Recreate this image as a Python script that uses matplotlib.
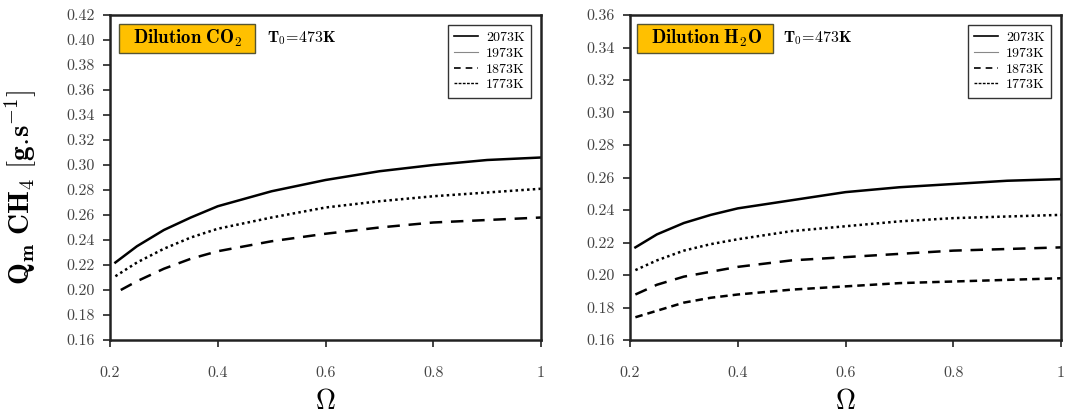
import matplotlib
matplotlib.use("Agg")
import matplotlib.pyplot as plt
from matplotlib.lines import Line2D
from matplotlib.patches import Rectangle

plt.rcParams['font.family'] = 'serif'
plt.rcParams['font.serif'] = ['cmr10', 'DejaVu Serif']
plt.rcParams['mathtext.fontset'] = 'cm'
plt.rcParams['axes.formatter.use_mathtext'] = True

# ---- data ----
omega = [0.21, 0.25, 0.30, 0.35, 0.40, 0.50, 0.60, 0.70, 0.80, 0.90, 1.00]
omega_b = [0.22, 0.25, 0.30, 0.35, 0.40, 0.50, 0.60, 0.70, 0.80, 0.90, 1.00]

co2_2073 = [0.222, 0.235, 0.248, 0.258, 0.267, 0.279, 0.288, 0.295, 0.300, 0.304, 0.306]
co2_1973 = [0.211, 0.222, 0.233, 0.242, 0.249, 0.258, 0.266, 0.271, 0.275, 0.278, 0.281]
co2_1873 = [0.200, 0.207, 0.217, 0.225, 0.231, 0.239, 0.245, 0.250, 0.254, 0.256, 0.258]

h2o_2073 = [0.217, 0.225, 0.232, 0.237, 0.241, 0.246, 0.251, 0.254, 0.256, 0.258, 0.259]
h2o_1973 = [0.203, 0.209, 0.215, 0.219, 0.222, 0.227, 0.230, 0.233, 0.235, 0.236, 0.237]
h2o_1873 = [0.188, 0.194, 0.199, 0.202, 0.205, 0.209, 0.211, 0.213, 0.215, 0.216, 0.217]
h2o_1773 = [0.174, 0.178, 0.183, 0.186, 0.188, 0.191, 0.193, 0.195, 0.196, 0.197, 0.198]

legend_labels = ['2073K', '1973K', '1873K', '1773K']
xticks = [0.2, 0.4, 0.6, 0.8, 1.0]
xticklabels = ['0.2', '0.4', '0.6', '0.8', '1']

fig = plt.figure(figsize=(10.66, 4.15), dpi=100)
ax1 = fig.add_axes([110/1066, 1-340/415, 431/1066, 325/415])
ax2 = fig.add_axes([630/1066, 1-340/415, 431/1066, 325/415])

ax1.plot(omega, co2_2073, color='black', lw=1.8, ls='-')
ax1.plot(omega, co2_1973, color='black', lw=1.8, ls=(0, (1, 1.3)))
ax1.plot(omega_b, co2_1873, color='black', lw=1.8, ls=(0, (5, 3.5)))

ax2.plot(omega, h2o_2073, color='black', lw=1.8, ls='-')
ax2.plot(omega, h2o_1973, color='black', lw=1.8, ls=(0, (1, 1.3)))
ax2.plot(omega, h2o_1873, color='black', lw=1.8, ls=(0, (5, 3.5)))
ax2.plot(omega, h2o_1773, color='black', lw=1.8, ls=(0, (3, 2)))

def style(ax, ylim, yticks, title, box_x0, text_x, t0_x):
    ax.set_xlim(0.2, 1.0)
    ax.set_ylim(*ylim)
    ax.set_xticks(xticks)
    ax.set_xticklabels(xticklabels)
    ax.set_yticks(yticks)
    ax.set_yticklabels([f'{v:.2f}' for v in yticks])
    for s in ax.spines.values():
        s.set_linewidth(1.8)
        s.set_color('#222222')
    ax.tick_params(direction='out', length=5, width=1.2, colors='#222222',
                   labelsize=11.5, labelcolor='#444444', pad=6)
    ax.tick_params(axis='x', pad=14)
    ax.set_xlabel(r'$\mathbf{\Omega}$', fontsize=20, labelpad=6)
    ax.add_patch(Rectangle((box_x0, 0.883), 136/431, 0.0892,
                           transform=ax.transAxes, facecolor='#FFC000',
                           edgecolor='#555533', linewidth=1.0, zorder=3))
    ax.text(text_x, 0.9277, title, transform=ax.transAxes, fontsize=13.5,
            va='center', ha='left', zorder=4)
    ax.text(t0_x, 0.9277, r'$\mathbf{T_0\!=\!473K}$', transform=ax.transAxes,
            fontsize=11.5, va='center', ha='left')
    handles = [Line2D([], [], color='black', lw=1.2, ls='-'),
               Line2D([], [], color='#888888', lw=0.8, ls='-'),
               Line2D([], [], color='black', lw=1.2, ls=(0, (4, 3))),
               Line2D([], [], color='black', lw=1.0, ls=(0, (2, 1)))]
    leg = ax.legend(handles, legend_labels, loc='upper right', fontsize=10,
                    frameon=True, fancybox=False, handlelength=1.7,
                    borderpad=0.45, labelspacing=0.22, handletextpad=0.6,
                    borderaxespad=0.0,
                    bbox_to_anchor=(1 - 10/431, 1 - 10/325))
    leg.get_frame().set_edgecolor('black')
    leg.get_frame().set_linewidth(1.0)

style(ax1, (0.16, 0.42), [0.16 + 0.02*i for i in range(14)],
      r'$\mathbf{Dilution\ CO_2}$', 9/431, 23/431, 157/431)
style(ax2, (0.16, 0.36), [0.16 + 0.02*i for i in range(11)],
      r'$\mathbf{Dilution\ H_2O}$', 7/431, 21/431, 153/431)

ax1.set_ylabel(r'$\mathbf{Q_m\ CH_4\ [g.\!s^{-1}]}$', fontsize=21)
ax1.yaxis.set_label_coords(-0.165, 0.47)

fig.savefig('out.png', dpi=100)
